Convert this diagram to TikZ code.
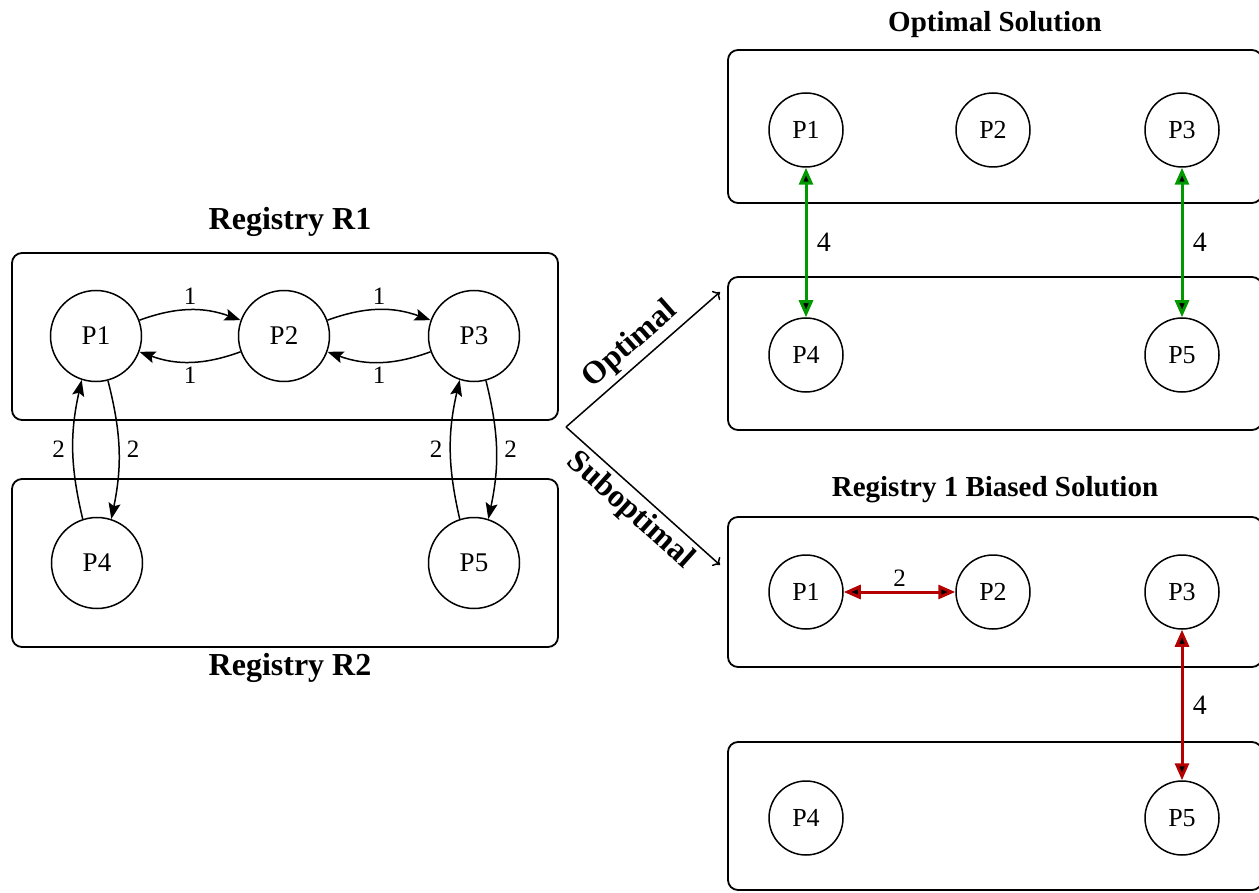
\documentclass[tikz,border=0pt]{standalone}
\usepackage{fontspec}
\setmainfont{Liberation Serif}
\usepackage{tikz}
\usetikzlibrary{
	arrows.meta,
	calc,
	positioning,
}
\definecolor{optgreen}{RGB}{0,153,0}
\definecolor{subred}{RGB}{180,0,0}
\tikzset{proc node/.style={
	draw,
	circle,
	inner sep=0mm,
	minimum size=91pt,
	line width=1.5pt,
	font=\fontsize{27}{32}\selectfont,
}}
\tikzset{small proc/.style={
	proc node,
	minimum size=74pt,
	font=\fontsize{26}{30}\selectfont,
}}
\tikzset{registry/.style={
	draw,
	rounded corners=10pt,
	line width=1.8pt,
}}
\tikzset{title/.style={
	font=\fontsize{32}{36}\selectfont\bfseries,
}}
\tikzset{small title/.style={
	font=\fontsize{29}{33}\selectfont\bfseries,
}}
\tikzset{weight/.style={
	font=\fontsize{25}{29}\selectfont,
}}
\tikzset{big weight/.style={
	font=\fontsize{28}{32}\selectfont,
}}
\tikzset{pick/.style={
	line width=3pt,
	{Triangle[length=17pt,width=14pt,fill=black]}-{Triangle[length=17pt,width=14pt,fill=black]},
}}

\begin{document}
\begin{tikzpicture}[x=1pt,y=-1pt]
\useasboundingbox (0,0) rectangle (1259,893);

% left: the two registries
\draw[registry] (12,253) rectangle (558,420);
\draw[registry] (12,479) rectangle (558,647);
\node[title] (tr1) at (290,222) {Registry R1};
\node[title] (tr2) at (290,668) {Registry R2};

\foreach \n/\x/\y in {1/96/336,2/284/336,3/474/336,4/97/563,5/474/563}{
	\node[proc node] (l\n) at (\x,\y) {P\n};
}

\begin{scope}[line width=1.5pt, -{Stealth[length=16pt,width=12pt,inset=3pt]}]
\foreach \u \v in {l1/l2,l2/l3}{
	\draw (\u.20) to[bend left=20] node[weight, above=1pt] {1} (\v.160);
	\draw (\v.200) to[bend left=20] node[weight, below=1pt] {1} (\u.340);
}
\foreach \u \v in {l1/l4,l3/l5}{
	\draw (\v.108) to[bend left=13] node[weight, left=4pt] {2} (\u.252);
	\draw (\u.285) to[bend left=13] node[weight, right=4pt] {2} (\v.72);
}
\end{scope}

% the fork
\coordinate (fork) at (566,427);
\coordinate (opt) at (720,292);
\coordinate (sub) at (720,565);
\draw[line width=1.5pt, -{To[length=6pt,width=12pt]}] (fork) -- node[title, sloped, above=1pt] {Optimal} (opt);
\draw[line width=1.5pt, -{To[length=6pt,width=12pt]}] (fork) -- node[title, sloped, below=1pt] {Suboptimal} (sub);

% right: optimal solution
\node[small title] (topt) at (995,25) {Optimal Solution};
\draw[registry] (728,50) rectangle (1262,203);
\draw[registry] (728,277) rectangle (1262,430);
\foreach \n/\x/\y in {1/806/130,2/993/130,3/1182/130,4/806/355,5/1182/355}{
	\node[small proc] (o\n) at (\x,\y) {P\n};
}
\draw[pick, optgreen] (o1) -- node[big weight, black, right=6pt] {4} (o4);
\draw[pick, optgreen] (o3) -- node[big weight, black, right=6pt] {4} (o5);

% right: biased solution
\node[small title] (tbias) at (995,490) {Registry 1 Biased Solution};
\draw[registry] (728,517) rectangle (1262,667);
\draw[registry] (728,742) rectangle (1262,890);
\foreach \n/\x/\y in {1/806/592,2/993/592,3/1182/592,4/806/818,5/1182/818}{
	\node[small proc] (b\n) at (\x,\y) {P\n};
}
\draw[pick, subred] (b1) -- node[weight, black, above=1pt] {2} (b2);
\draw[pick, subred] (b3) -- node[big weight, black, right=6pt] {4} (b5);

\end{tikzpicture}
\end{document}
